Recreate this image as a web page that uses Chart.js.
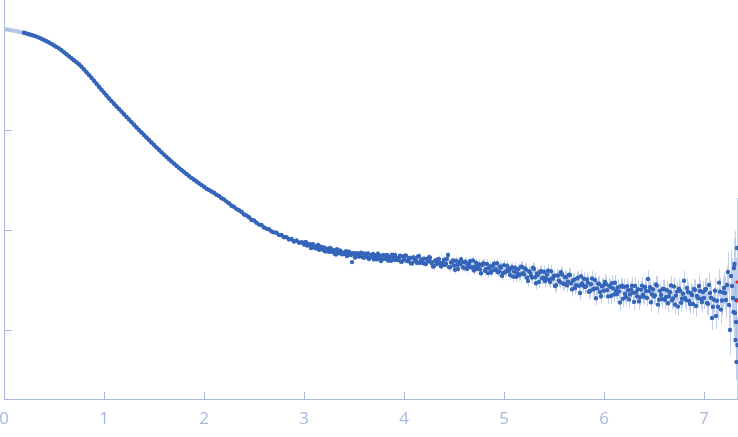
<!DOCTYPE html>
<html>
<head>
<meta charset="utf-8">
<script src="https://cdn.jsdelivr.net/npm/chart.js@4.4.1/dist/chart.umd.min.js"></script>
<style>
  html, body { margin: 0; padding: 0; background: #fff; }
  #wrap { width: 738px; height: 437px; }
</style>
</head>
<body>
<div id="wrap"><canvas id="chart"></canvas></div>
<script>
// scattering curve, intensities kept as log10 values
const xTickValues = [0, 1, 2, 3, 4, 5, 6, 7];
const yTickValues = [1, 0.1, 0.01, 0.001];

// first points, excluded from the analysis (pale)
const excludedQ = [0, 0.025, 0.05, 0.075, 0.1, 0.125, 0.15, 0.175, 0.2];
const excludedLogI = [0.010, 0.006, 0.002, -0.002, -0.008, -0.013, -0.018, -0.023, -0.028];

const mainQ = [
  0.2, 0.225, 0.25, 0.275, 0.3, 0.325, 0.35, 0.375, 0.4, 0.425,
  0.45, 0.475, 0.5, 0.525, 0.55, 0.575, 0.6, 0.625, 0.65, 0.675,
  0.7, 0.725, 0.75, 0.775, 0.8, 0.825, 0.85, 0.875, 0.9, 0.925,
  0.95, 0.975, 1.0, 1.025, 1.05, 1.075, 1.1, 1.125, 1.15, 1.175,
  1.2, 1.225, 1.25, 1.275, 1.3, 1.325, 1.35, 1.375, 1.4, 1.425,
  1.45, 1.475, 1.5, 1.525, 1.55, 1.575, 1.6, 1.625, 1.65, 1.675,
  1.7, 1.725, 1.75, 1.775, 1.8, 1.825, 1.85, 1.875, 1.9, 1.925,
  1.95, 1.975, 2.0, 2.025, 2.05, 2.075, 2.1, 2.125, 2.15, 2.175,
  2.2, 2.225, 2.25, 2.275, 2.3, 2.325, 2.35, 2.375, 2.4, 2.425,
  2.45, 2.475, 2.5, 2.525, 2.55, 2.575, 2.6, 2.625, 2.65, 2.675,
  2.7, 2.725, 2.75, 2.775, 2.8, 2.825, 2.85, 2.875, 2.9, 2.925,
  2.95, 2.975
];
const mainLogI = [
  -0.028, -0.035, -0.042, -0.050, -0.057, -0.066, -0.076, -0.088, -0.100, -0.113,
  -0.125, -0.139, -0.154, -0.169, -0.184, -0.202, -0.222, -0.242, -0.262, -0.282,
  -0.302, -0.322, -0.342, -0.367, -0.394, -0.422, -0.449, -0.478, -0.508, -0.538,
  -0.568, -0.597, -0.626, -0.655, -0.684, -0.711, -0.737, -0.764, -0.790, -0.816,
  -0.842, -0.869, -0.895, -0.921, -0.947, -0.974, -1.000, -1.025, -1.050, -1.075,
  -1.100, -1.125, -1.149, -1.174, -1.198, -1.222, -1.246, -1.269, -1.292, -1.314,
  -1.336, -1.358, -1.379, -1.400, -1.420, -1.440, -1.460, -1.479, -1.497, -1.515,
  -1.533, -1.551, -1.567, -1.588, -1.599, -1.615, -1.628, -1.648, -1.659, -1.682,
  -1.694, -1.716, -1.733, -1.757, -1.768, -1.791, -1.803, -1.818, -1.845, -1.854,
  -1.872, -1.899, -1.904, -1.928, -1.946, -1.950, -1.975, -1.986, -1.993, -2.014,
  -2.024, -2.027, -2.051, -2.050, -2.072, -2.071, -2.095, -2.090, -2.115, -2.104,
  -2.128, -2.122
];

// noisy part with visible error bars (half-width in decades), two interleaved runs of points
const tailQ = [
  3.00, 3.02, 3.04, 3.06, 3.08, 3.10, 3.12, 3.14, 3.16, 3.18,
  3.20, 3.22, 3.24, 3.26, 3.28, 3.30, 3.32, 3.34, 3.36, 3.38,
  3.40, 3.42, 3.44, 3.46, 3.48, 3.50, 3.52, 3.54, 3.56, 3.58,
  3.60, 3.62, 3.64, 3.66, 3.68, 3.70, 3.72, 3.74, 3.76, 3.78,
  3.80, 3.82, 3.84, 3.86, 3.88, 3.90, 3.92, 3.94, 3.96, 3.98,
  4.00, 4.02, 4.04, 4.06, 4.08, 4.10, 4.12, 4.14, 4.16, 4.18,
  4.20, 4.22, 4.24, 4.26, 4.28, 4.30, 4.32, 4.34, 4.36, 4.38,
  4.40, 4.42, 4.44, 4.46, 4.48, 4.50, 4.52, 4.54, 4.56, 4.58,
  4.60, 4.62, 4.64, 4.66, 4.68, 4.70, 4.72, 4.74, 4.76, 4.78,
  4.80, 4.82, 4.84, 4.86, 4.88, 4.90, 4.92, 4.94, 4.96, 4.98,
  5.00, 5.02, 5.04, 5.06, 5.08, 5.10, 5.12, 5.14, 5.16, 5.18,
  5.20, 5.22, 5.24, 5.26, 5.28, 5.30, 5.32, 5.34, 5.36, 5.38,
  5.40, 5.42, 5.44, 5.46, 5.48, 5.50, 5.52, 5.54, 5.56, 5.58,
  5.60, 5.62, 5.64, 5.66, 5.68, 5.70, 5.72, 5.74, 5.76, 5.78,
  5.80, 5.82, 5.84, 5.86, 5.88, 5.90, 5.92, 5.94, 5.96, 5.98,
  6.00, 6.02, 6.04, 6.06, 6.08, 6.10, 6.12, 6.14, 6.16, 6.18,
  6.20, 6.22, 6.24, 6.26, 6.28, 6.30, 6.32, 6.34, 6.36, 6.38,
  6.40, 6.42, 6.44, 6.46, 6.48, 6.50, 6.52, 6.54, 6.56, 6.58,
  6.60, 6.62, 6.64, 6.66, 6.68, 6.70, 6.72, 6.74, 6.76, 6.78,
  6.80, 6.82, 6.84, 6.86, 6.88, 6.90, 6.92, 6.94, 6.96, 6.98,
  7.00, 7.02, 7.04, 7.06, 7.08, 7.10, 7.12, 7.14, 7.16, 7.18,
  7.20, 7.22, 7.24, 7.26, 7.28, 7.30, 7.31, 7.32, 7.325, 7.33
];
const tailLogI = [
  -2.145, -2.121, -2.152, -2.143, -2.178, -2.159, -2.184, -2.150, -2.180, -2.195,
  -2.175, -2.214, -2.199, -2.179, -2.218, -2.202, -2.246, -2.225, -2.204, -2.242,
  -2.240, -2.213, -2.251, -2.229, -2.321, -2.229, -2.266, -2.244, -2.261, -2.233,
  -2.275, -2.247, -2.234, -2.276, -2.263, -2.294, -2.251, -2.237, -2.279, -2.295,
  -2.252, -2.283, -2.305, -2.266, -2.247, -2.298, -2.280, -2.296, -2.257, -2.314,
  -2.296, -2.258, -2.310, -2.282, -2.334, -2.276, -2.303, -2.265, -2.327, -2.294,
  -2.286, -2.338, -2.310, -2.277, -2.334, -2.361, -2.308, -2.295, -2.332, -2.354,
  -2.296, -2.338, -2.250, -2.372, -2.324, -2.356, -2.308, -2.390, -2.342, -2.324,
  -2.376, -2.328, -2.360, -2.312, -2.374, -2.406, -2.328, -2.360, -2.392, -2.349,
  -2.336, -2.389, -2.431, -2.364, -2.406, -2.338, -2.391, -2.423, -2.365, -2.458,
  -2.351, -2.414, -2.387, -2.450, -2.373, -2.416, -2.469, -2.392, -2.445, -2.369,
  -2.442, -2.396, -2.509, -2.423, -2.476, -2.390, -2.533, -2.447, -2.420, -2.484,
  -2.418, -2.482, -2.406, -2.520, -2.484, -2.458, -2.552, -2.456, -2.520, -2.444,
  -2.538, -2.472, -2.516, -2.450, -2.594, -2.498, -2.552, -2.476, -2.630, -2.534,
  -2.488, -2.562, -2.526, -2.610, -2.484, -2.588, -2.682, -2.536, -2.620, -2.564,
  -2.607, -2.541, -2.664, -2.568, -2.531, -2.645, -2.608, -2.572, -2.725, -2.557,
  -2.569, -2.671, -2.603, -2.645, -2.557, -2.719, -2.621, -2.593, -2.675, -2.556,
  -2.668, -2.609, -2.490, -2.572, -2.643, -2.664, -2.545, -2.746, -2.608, -2.689,
  -2.590, -2.671, -2.732, -2.623, -2.704, -2.565, -2.656, -2.766, -2.607, -2.688,
  -2.508, -2.699, -2.619, -2.740, -2.650, -2.590, -2.760, -2.680, -2.610, -2.720,
  -2.680, -2.590, -2.739, -2.629, -2.880, -2.698, -2.860, -2.767, -2.616, -2.705,
  -2.580, -2.700, -2.420, -3.000, -2.560, -2.380, -2.830, -2.920, -3.320, -2.180
];
const tailErr = [
  0.010, 0.011, 0.010, 0.012, 0.011, 0.012, 0.011, 0.013, 0.012, 0.012,
  0.013, 0.012, 0.014, 0.013, 0.014, 0.013, 0.015, 0.014, 0.015, 0.014,
  0.016, 0.015, 0.016, 0.017, 0.016, 0.017, 0.018, 0.017, 0.018, 0.018,
  0.019, 0.018, 0.020, 0.019, 0.020, 0.021, 0.020, 0.021, 0.022, 0.021,
  0.022, 0.023, 0.022, 0.024, 0.023, 0.024, 0.025, 0.024, 0.025, 0.026,
  0.026, 0.027, 0.026, 0.028, 0.027, 0.029, 0.028, 0.029, 0.030, 0.029,
  0.031, 0.030, 0.032, 0.031, 0.033, 0.032, 0.033, 0.034, 0.033, 0.035,
  0.035, 0.036, 0.035, 0.037, 0.036, 0.038, 0.037, 0.039, 0.038, 0.040,
  0.040, 0.041, 0.040, 0.042, 0.043, 0.042, 0.044, 0.043, 0.045, 0.044,
  0.046, 0.045, 0.047, 0.046, 0.048, 0.047, 0.049, 0.048, 0.050, 0.049,
  0.051, 0.050, 0.052, 0.053, 0.052, 0.054, 0.053, 0.055, 0.054, 0.056,
  0.056, 0.057, 0.058, 0.057, 0.059, 0.058, 0.060, 0.059, 0.061, 0.060,
  0.062, 0.061, 0.063, 0.062, 0.064, 0.063, 0.065, 0.064, 0.066, 0.065,
  0.067, 0.066, 0.068, 0.067, 0.069, 0.068, 0.070, 0.069, 0.071, 0.070,
  0.072, 0.071, 0.073, 0.072, 0.074, 0.073, 0.075, 0.074, 0.076, 0.075,
  0.077, 0.076, 0.078, 0.077, 0.079, 0.078, 0.080, 0.079, 0.081, 0.080,
  0.082, 0.081, 0.083, 0.082, 0.084, 0.083, 0.085, 0.084, 0.086, 0.085,
  0.087, 0.086, 0.088, 0.087, 0.089, 0.088, 0.090, 0.089, 0.091, 0.090,
  0.092, 0.091, 0.093, 0.092, 0.094, 0.093, 0.095, 0.094, 0.096, 0.095,
  0.098, 0.097, 0.100, 0.099, 0.102, 0.101, 0.104, 0.103, 0.106, 0.105,
  0.110, 0.112, 0.115, 0.118, 0.122, 0.126, 0.130, 0.135, 0.140, 0.146,
  0.160, 0.180, 0.200, 0.250, 0.280, 0.300, 0.340, 0.380, 0.450, 0.500
];

const tail2Q = [
  3.01, 3.03, 3.05, 3.07, 3.09, 3.11, 3.13, 3.15, 3.17, 3.19,
  3.21, 3.23, 3.25, 3.27, 3.29, 3.31, 3.33, 3.35, 3.37, 3.39,
  3.41, 3.43, 3.45, 3.47, 3.49, 3.51, 3.53, 3.55, 3.57, 3.59,
  3.61, 3.63, 3.65, 3.67, 3.69, 3.71, 3.73, 3.75, 3.77, 3.79,
  3.81, 3.83, 3.85, 3.87, 3.89, 3.91, 3.93, 3.95, 3.97, 3.99,
  4.01, 4.03, 4.05, 4.07, 4.09, 4.11, 4.13, 4.15, 4.17, 4.19,
  4.21, 4.23, 4.25, 4.27, 4.29, 4.31, 4.33, 4.35, 4.37, 4.39,
  4.41, 4.43, 4.45, 4.47, 4.49, 4.51, 4.53, 4.55, 4.57, 4.59,
  4.61, 4.63, 4.65, 4.67, 4.69, 4.71, 4.73, 4.75, 4.77, 4.79,
  4.81, 4.83, 4.85, 4.87, 4.89, 4.91, 4.93, 4.95, 4.97, 4.99,
  5.01, 5.03, 5.05, 5.07, 5.09, 5.11, 5.13, 5.15, 5.17, 5.19,
  5.21, 5.23, 5.25, 5.27, 5.29, 5.31, 5.33, 5.35, 5.37, 5.39,
  5.41, 5.43, 5.45, 5.47, 5.49, 5.51, 5.53, 5.55, 5.57, 5.59,
  5.61, 5.63, 5.65, 5.67, 5.69, 5.71, 5.73, 5.75, 5.77, 5.79,
  5.81, 5.83, 5.85, 5.87, 5.89, 5.91, 5.93, 5.95, 5.97, 5.99,
  6.01, 6.03, 6.05, 6.07, 6.09, 6.11, 6.13, 6.15, 6.17, 6.19,
  6.21, 6.23, 6.25, 6.27, 6.29, 6.31, 6.33, 6.35, 6.37, 6.39,
  6.41, 6.43, 6.45, 6.47, 6.49, 6.51, 6.53, 6.55, 6.57, 6.59,
  6.61, 6.63, 6.65, 6.67, 6.69, 6.71, 6.73, 6.75, 6.77, 6.79,
  6.81, 6.83, 6.85, 6.87, 6.89, 6.91, 6.93, 6.95, 6.97, 6.99,
  7.01, 7.03, 7.05, 7.07, 7.09, 7.11, 7.13, 7.15, 7.17, 7.19,
  7.21, 7.23, 7.25, 7.27, 7.29, 7.295, 7.305, 7.315, 7.32, 7.335
];
const tail2LogI = [
  -2.123, -2.154, -2.145, -2.181, -2.141, -2.172, -2.162, -2.198, -2.168, -2.193,
  -2.212, -2.187, -2.217, -2.186, -2.215, -2.239, -2.193, -2.232, -2.216, -2.234,
  -2.222, -2.260, -2.218, -2.250, -2.238, -2.275, -2.233, -2.265, -2.227, -2.274,
  -2.236, -2.273, -2.290, -2.252, -2.239, -2.270, -2.292, -2.253, -2.310, -2.251,
  -2.288, -2.249, -2.281, -2.307, -2.268, -2.249, -2.301, -2.277, -2.318, -2.265,
  -2.257, -2.309, -2.281, -2.333, -2.275, -2.307, -2.329, -2.261, -2.303, -2.330,
  -2.337, -2.289, -2.271, -2.323, -2.365, -2.307, -2.339, -2.291, -2.363, -2.325,
  -2.347, -2.289, -2.371, -2.323, -2.305, -2.397, -2.349, -2.321, -2.293, -2.375,
  -2.317, -2.389, -2.341, -2.373, -2.305, -2.367, -2.389, -2.341, -2.433, -2.335,
  -2.408, -2.340, -2.383, -2.425, -2.357, -2.400, -2.332, -2.414, -2.377, -2.430,
  -2.423, -2.356, -2.409, -2.382, -2.465, -2.378, -2.431, -2.454, -2.367, -2.431,
  -2.384, -2.478, -2.411, -2.455, -2.378, -2.472, -2.435, -2.519, -2.412, -2.476,
  -2.510, -2.444, -2.498, -2.412, -2.486, -2.560, -2.454, -2.508, -2.422, -2.536,
  -2.470, -2.554, -2.448, -2.532, -2.506, -2.580, -2.484, -2.558, -2.462, -2.556,
  -2.570, -2.494, -2.618, -2.542, -2.596, -2.500, -2.584, -2.538, -2.662, -2.555,
  -2.519, -2.603, -2.556, -2.660, -2.583, -2.527, -2.640, -2.614, -2.566, -2.688,
  -2.640, -2.562, -2.694, -2.596, -2.628, -2.560, -2.662, -2.714, -2.596, -2.647,
  -2.569, -2.680, -2.611, -2.723, -2.594, -2.655, -2.556, -2.697, -2.649, -2.590,
  -2.701, -2.602, -2.663, -2.554, -2.685, -2.745, -2.616, -2.587, -2.727, -2.638,
  -2.679, -2.579, -2.709, -2.630, -2.740, -2.600, -2.660, -2.560, -2.690, -2.620,
  -2.600, -2.729, -2.549, -2.678, -2.768, -2.607, -2.707, -2.526, -2.796, -2.624,
  -2.630, -2.550, -2.750, -2.460, -2.680, -2.820, -2.340, -3.100, -2.700, -3.150
];
const tail2Err = [
  0.011, 0.010, 0.012, 0.011, 0.012, 0.012, 0.013, 0.012, 0.013, 0.013,
  0.012, 0.014, 0.013, 0.014, 0.014, 0.015, 0.014, 0.015, 0.015, 0.016,
  0.015, 0.017, 0.016, 0.016, 0.017, 0.018, 0.017, 0.018, 0.019, 0.018,
  0.020, 0.019, 0.019, 0.020, 0.021, 0.020, 0.022, 0.021, 0.021, 0.022,
  0.023, 0.022, 0.024, 0.023, 0.024, 0.024, 0.025, 0.025, 0.026, 0.025,
  0.027, 0.026, 0.028, 0.027, 0.028, 0.028, 0.029, 0.030, 0.029, 0.030,
  0.030, 0.032, 0.031, 0.032, 0.032, 0.033, 0.034, 0.034, 0.035, 0.034,
  0.036, 0.035, 0.036, 0.037, 0.037, 0.038, 0.038, 0.039, 0.039, 0.040,
  0.041, 0.040, 0.042, 0.041, 0.042, 0.043, 0.043, 0.044, 0.044, 0.045,
  0.045, 0.046, 0.046, 0.047, 0.047, 0.048, 0.048, 0.049, 0.049, 0.050,
  0.050, 0.051, 0.051, 0.052, 0.053, 0.053, 0.054, 0.054, 0.055, 0.055,
  0.057, 0.056, 0.057, 0.058, 0.058, 0.059, 0.059, 0.060, 0.060, 0.061,
  0.061, 0.062, 0.062, 0.063, 0.063, 0.064, 0.064, 0.065, 0.065, 0.066,
  0.066, 0.067, 0.067, 0.068, 0.068, 0.069, 0.069, 0.070, 0.070, 0.071,
  0.071, 0.072, 0.072, 0.073, 0.073, 0.074, 0.074, 0.075, 0.075, 0.076,
  0.076, 0.077, 0.077, 0.078, 0.078, 0.079, 0.079, 0.080, 0.080, 0.081,
  0.081, 0.082, 0.082, 0.083, 0.083, 0.084, 0.084, 0.085, 0.085, 0.086,
  0.086, 0.087, 0.087, 0.088, 0.088, 0.089, 0.089, 0.090, 0.090, 0.091,
  0.091, 0.092, 0.092, 0.093, 0.093, 0.094, 0.094, 0.095, 0.095, 0.096,
  0.097, 0.099, 0.098, 0.101, 0.100, 0.103, 0.102, 0.105, 0.104, 0.108,
  0.111, 0.113, 0.117, 0.120, 0.124, 0.128, 0.132, 0.137, 0.143, 0.150,
  0.170, 0.190, 0.230, 0.260, 0.290, 0.310, 0.330, 0.400, 0.420, 0.480
];

// end of the fitted curve, only visible at the right edge
const fitQ = [7.33, 7.33];
const fitLogI = [-2.71, -2.52];

const AXIS = '#a7b9df';
const POINT = '#3465b9';
const PALE = '#b5c8e8';

const toPoints = (qs, logs) => qs.map((q, i) => ({ x: q, y: Math.pow(10, logs[i]) }));

const errorBars = {
    id: 'errorBars',
    beforeDatasetsDraw(chart) {
        const { ctx, chartArea: a, scales: { x, y } } = chart;
        ctx.save();
        ctx.beginPath();
        ctx.rect(a.left, a.top, a.width, a.height);
        ctx.clip();
        ctx.strokeStyle = 'rgba(165,188,230,0.7)';
        ctx.lineWidth = 1;
        ctx.beginPath();
        const bars = (qs, logs, errs) => qs.forEach((q, i) => {
            const px = Math.round(x.getPixelForValue(q)) + 0.5;
            ctx.moveTo(px, y.getPixelForValue(Math.pow(10, logs[i] + errs[i])));
            ctx.lineTo(px, y.getPixelForValue(Math.pow(10, logs[i] - errs[i])));
        });
        bars(tailQ, tailLogI, tailErr);
        bars(tail2Q, tail2LogI, tail2Err);
        ctx.stroke();
        ctx.restore();
    }
};

// small tick marks pointing into the plot
const innerTicks = {
    id: 'innerTicks',
    afterDraw(chart) {
        const { ctx, chartArea: a, scales: { x, y } } = chart;
        ctx.save();
        ctx.strokeStyle = AXIS;
        ctx.lineWidth = 1;
        ctx.beginPath();
        x.ticks.forEach(t => {
            const p = Math.round(x.getPixelForValue(t.value)) + 0.5;
            ctx.moveTo(p, a.bottom);
            ctx.lineTo(p, a.bottom - 7);
        });
        y.ticks.forEach(t => {
            const p = Math.round(y.getPixelForValue(t.value)) + 0.5;
            ctx.moveTo(a.left, p);
            ctx.lineTo(a.left + 8, p);
        });
        ctx.stroke();
        ctx.restore();
    }
};

const dots = (label, data, color) => ({
    label,
    data,
    backgroundColor: color,
    borderColor: color,
    pointRadius: 2.2,
    pointBorderWidth: 0,
});

new Chart(document.getElementById('chart'), {
    type: 'scatter',
    data: {
        datasets: [
            Object.assign(dots('fit', toPoints(fitQ, fitLogI), '#e8262a'), { pointRadius: 1.6 }),
            // dense measured points read as a thick continuous trace
            Object.assign(dots('main', toPoints(mainQ, mainLogI), POINT), { showLine: true, borderWidth: 3.2 }),
            dots('tail', toPoints(tailQ, tailLogI), POINT),
            dots('tail2', toPoints(tail2Q, tail2LogI), POINT),
            Object.assign(dots('excluded', toPoints(excludedQ, excludedLogI), PALE), { showLine: true, borderWidth: 3.2 }),
        ]
    },
    options: {
        responsive: true,
        maintainAspectRatio: false,
        animation: false,
        devicePixelRatio: 1,
        layout: { autoPadding: false, padding: { top: 0, right: 0, bottom: 7, left: 4 } },
        plugins: {
            legend: { display: false },
            tooltip: { enabled: false }
        },
        scales: {
            x: {
                type: 'linear',
                min: 0,
                max: 7.34,
                afterBuildTicks: s => { s.ticks = xTickValues.map(v => ({ value: v })); },
                afterFit: s => { s.paddingLeft = 0; s.paddingRight = 0; s.height = 31; },
                grid: { display: false, drawTicks: false },
                border: { display: true, color: AXIS, width: 1 },
                ticks: {
                    color: AXIS,
                    padding: 10,
                    font: { family: 'Open Sans', size: 17 }
                }
            },
            y: {
                type: 'logarithmic',
                min: Math.pow(10, -3.69),
                max: Math.pow(10, 0.30),
                afterBuildTicks: s => { s.ticks = yTickValues.map(v => ({ value: v })); },
                afterFit: s => { s.width = 0; s.paddingTop = 0; s.paddingBottom = 0; },
                grid: { display: false, drawTicks: false },
                border: { display: true, color: AXIS, width: 1 },
                ticks: { display: false }
            }
        }
    },
    plugins: [errorBars, innerTicks]
});
</script>
</body>
</html>
